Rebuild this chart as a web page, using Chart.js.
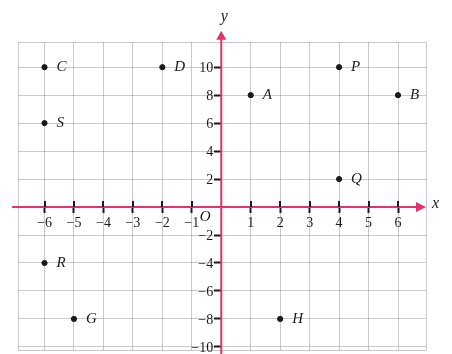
<!DOCTYPE html>
<html>
<head>
<meta charset="utf-8">
<script src="https://cdn.jsdelivr.net/npm/chart.js@4"></script>
<style>
  html, body { margin: 0; padding: 0; background: #fff; overflow: hidden; }
  #wrap { width: 452px; height: 354px; position: relative; }
</style>
</head>
<body>
<div id="wrap"><canvas id="c"></canvas></div>
<script>
// Data
const pointNames = ['C', 'D', 'S', 'A', 'P', 'B', 'Q', 'R', 'G', 'H'];
const pointX     = [-6,  -2,  -6,   1,   4,   6,   4,  -6,  -5,   2];
const pointY     = [10,  10,   6,   8,  10,   8,   2,  -4,  -8,  -8];
const xTickValues = [-6, -5, -4, -3, -2, -1, 1, 2, 3, 4, 5, 6];
const yTickValues = [-10, -8, -6, -4, -2, 2, 4, 6, 8, 10];
const xGridValues = [-6.9, -6, -5, -4, -3, -2, -1, 0, 1, 2, 3, 4, 5, 6, 6.95];
const yGridValues = [-10.25, -10, -8, -6, -4, -2, 0, 2, 4, 6, 8, 10, 11.8];

const PINK = '#e2336a';
const GRID = 'rgba(150,150,150,0.5)';
const INK = '#1a1a1a';
const SERIF = '"Liberation Serif", "DejaVu Serif", serif';

function fmt(v) { return v < 0 ? '\u2212' + Math.abs(v) : String(v); }
function isTickX(v) { return xTickValues.includes(v); }
function isTickY(v) { return yTickValues.includes(v); }

const decor = {
  id: 'decor',
  afterDraw(chart) {
    const ctx = chart.ctx;
    const xs = chart.scales.x, ys = chart.scales.y;
    const x0 = xs.getPixelForValue(0), y0 = ys.getPixelForValue(0);
    ctx.save();
    // x axis line + arrow
    ctx.strokeStyle = PINK; ctx.fillStyle = PINK; ctx.lineWidth = 2;
    const xl = xs.getPixelForValue(-7.1), xr = xs.getPixelForValue(6.95);
    ctx.beginPath(); ctx.moveTo(xl, y0); ctx.lineTo(xr - 6, y0); ctx.stroke();
    ctx.beginPath(); ctx.moveTo(xr, y0); ctx.lineTo(xr - 10, y0 - 5); ctx.lineTo(xr - 10, y0 + 5); ctx.closePath(); ctx.fill();
    // y axis line + arrow
    const yb = ys.getPixelForValue(-10.6), yt = ys.getPixelForValue(12.6);
    ctx.beginPath(); ctx.moveTo(x0, yb); ctx.lineTo(x0, yt + 6); ctx.stroke();
    ctx.beginPath(); ctx.moveTo(x0, yt); ctx.lineTo(x0 - 5, yt + 9); ctx.lineTo(x0 + 5, yt + 9); ctx.closePath(); ctx.fill();
    // upper half of x tick marks
    ctx.strokeStyle = INK; ctx.lineWidth = 2;
    xTickValues.forEach(v => {
      const px = Math.round(xs.getPixelForValue(v));
      ctx.beginPath(); ctx.moveTo(px, y0 - 6); ctx.lineTo(px, y0); ctx.stroke();
    });
    // y tick labels (left of the y axis tick marks)
    ctx.fillStyle = INK;
    ctx.font = '14px ' + SERIF;
    ctx.textAlign = 'right'; ctx.textBaseline = 'middle';
    yTickValues.forEach(v => {
      ctx.fillText(fmt(v), x0 - 8, ys.getPixelForValue(v) + 1);
    });
    // axis letters
    ctx.font = 'italic 16px ' + SERIF;
    ctx.textAlign = 'left';
    ctx.fillText('x', xr + 6, y0 - 3);
    ctx.textAlign = 'center';
    ctx.fillText('y', x0 + 3, yt - 14);
    ctx.font = 'italic 15px ' + SERIF;
    ctx.fillText('O', x0 - 16, y0 + 10);
    // point labels
    ctx.font = 'italic 15px ' + SERIF;
    ctx.textAlign = 'left';
    pointNames.forEach((n, i) => {
      const px = xs.getPixelForValue(pointX[i]), py = ys.getPixelForValue(pointY[i]);
      ctx.fillText(n, px + 12, py);
    });
    ctx.restore();
  }
};

new Chart(document.getElementById('c'), {
  type: 'scatter',
  data: {
    datasets: [{
      data: pointX.map((x, i) => ({ x, y: pointY[i] })),
      backgroundColor: INK,
      borderColor: INK,
      pointRadius: 2.6,
      pointHoverRadius: 2.6
    }]
  },
  options: {
    responsive: true,
    maintainAspectRatio: false,
    animation: false,
    events: [],
    layout: { padding: { left: 18, right: 26, top: 42, bottom: -9 } },
    plugins: { legend: { display: false }, tooltip: { enabled: false } },
    scales: {
      x: {
        type: 'linear',
        position: { y: 0 },
        min: -6.9, max: 6.95,
        afterBuildTicks: s => { s.ticks = xGridValues.map(v => ({ value: v })); },
        ticks: {
          autoSkip: false,
          maxRotation: 0,
          padding: 2,
          color: INK,
          font: { family: SERIF, size: 14 },
          callback: v => isTickX(v) ? fmt(v) : ''
        },
        grid: {
          color: GRID,
          lineWidth: 1,
          tickLength: 6,
          tickWidth: 2,
          tickColor: c => isTickX(c.tick.value) ? INK : 'rgba(0,0,0,0)'
        },
        border: { display: false }
      },
      y: {
        type: 'linear',
        position: { x: 0 },
        min: -10.25, max: 11.8,
        afterBuildTicks: s => { s.ticks = yGridValues.map(v => ({ value: v })); },
        ticks: {
          display: false,
          autoSkip: false
        },
        grid: {
          color: GRID,
          lineWidth: 1,
          tickLength: 7,
          tickWidth: 2,
          tickColor: c => isTickY(c.tick.value) ? INK : 'rgba(0,0,0,0)'
        },
        border: { display: false }
      }
    }
  },
  plugins: [decor]
});
</script>
</body>
</html>
